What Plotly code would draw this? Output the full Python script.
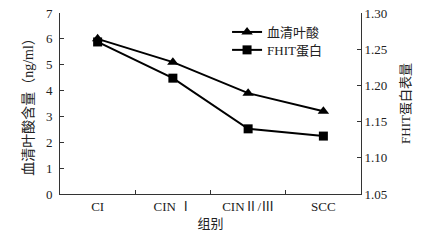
import plotly.graph_objects as go

categories = ["CI", "CIN Ⅰ", "CINⅡ/Ⅲ", "SCC"]
folate = [6.0, 5.1, 3.9, 3.2]
fhit = [1.26, 1.21, 1.14, 1.13]
left_ticks = [0, 1, 2, 3, 4, 5, 6, 7]
right_ticks = [1.05, 1.10, 1.15, 1.20, 1.25, 1.30]

FONT = "Liberation Serif, Times New Roman, Noto Sans CJK SC, serif"
INK = "#222"

fig = go.Figure()
fig.add_trace(go.Scatter(
    x=categories, y=folate, name="血清叶酸", mode="lines+markers",
    line=dict(color="black", width=2),
    marker=dict(symbol="triangle-up", size=10, color="black"),
    yaxis="y", cliponaxis=False, legend="legend",
))
fig.add_trace(go.Scatter(
    x=categories, y=fhit, name="FHIT蛋白", mode="lines+markers",
    line=dict(color="black", width=2),
    marker=dict(symbol="square", size=9, color="black"),
    yaxis="y2", cliponaxis=False, legend="legend2",
))

W, H = 439, 244
L, R, T, B = 60, 78, 13, 50

leg = dict(xanchor="left", yanchor="middle", bgcolor="rgba(0,0,0,0)",
           font=dict(size=13, color=INK), borderwidth=0)

fig.update_layout(
    width=W, height=H,
    margin=dict(l=L, r=R, t=T, b=B, autoexpand=False),
    paper_bgcolor="white", plot_bgcolor="white",
    font=dict(family=FONT, size=13, color=INK),
    showlegend=True,
    legend=dict(x=0.555, y=0.895, **leg),
    legend2=dict(x=0.555, y=0.796, **leg),
    xaxis=dict(
        type="category", range=[-0.5, 3.5], automargin=False,
        showline=True, linecolor="#333", linewidth=1,
        ticks="inside", tickson="boundaries", ticklen=4, tickcolor="#333",
        tickfont=dict(size=13),
        showgrid=False, zeroline=False,
        title=dict(text="组别", font=dict(size=13), standoff=6),
    ),
    yaxis=dict(
        range=[0, 7], tickvals=left_ticks, automargin=False,
        showline=True, linecolor="#333", linewidth=1,
        ticks="inside", ticklen=4, tickcolor="#333",
        tickfont=dict(size=13), ticklabelstandoff=4, ticklabeloverflow="allow",
        showgrid=False, zeroline=False,
        title=dict(text="血清叶酸含量（ng/ml）", font=dict(size=14), standoff=9),
    ),
    yaxis2=dict(
        range=[1.05, 1.30], tickvals=right_ticks, tickformat=".2f", automargin=False,
        overlaying="y", side="right",
        showline=True, linecolor="#333", linewidth=1,
        ticks="inside", ticklen=4, tickcolor="#333",
        tickfont=dict(size=13), ticklabelstandoff=0, ticklabeloverflow="allow",
        showgrid=False, zeroline=False,
        title=dict(text="FHIT蛋白表量", font=dict(size=13), standoff=14),
    ),
)

fig.write_html(
    "out.html",
    config={"displayModeBar": False},
    post_script="document.body.style.margin='0';document.body.style.overflow='hidden';",
)
